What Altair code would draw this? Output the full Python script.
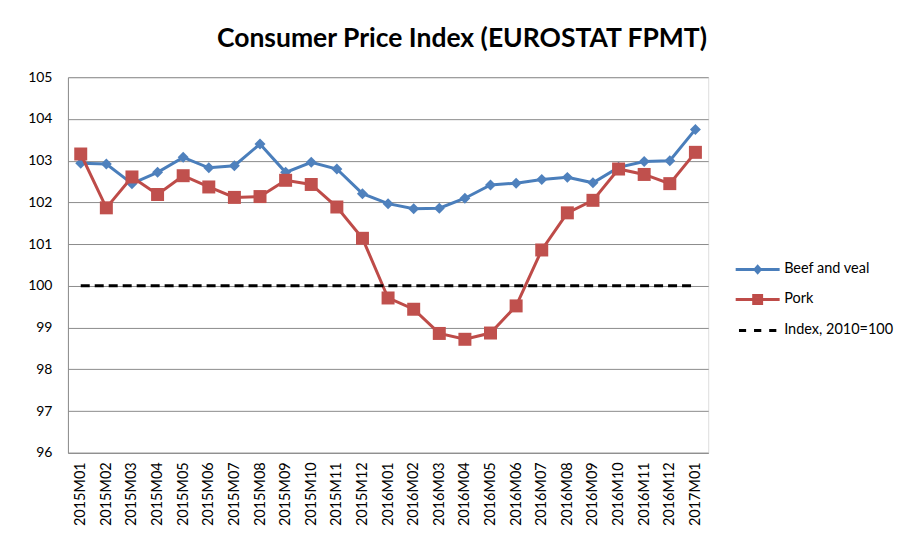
import altair as alt
import pandas as pd

months = ["2015M01", "2015M02", "2015M03", "2015M04", "2015M05", "2015M06",
          "2015M07", "2015M08", "2015M09", "2015M10", "2015M11", "2015M12",
          "2016M01", "2016M02", "2016M03", "2016M04", "2016M05", "2016M06",
          "2016M07", "2016M08", "2016M09", "2016M10", "2016M11", "2016M12",
          "2017M01"]
beef = [102.94, 102.92, 102.45, 102.72, 103.08, 102.83, 102.88, 103.40, 102.72,
        102.96, 102.80, 102.21, 101.97, 101.85, 101.86, 102.10, 102.42, 102.46,
        102.55, 102.60, 102.47, 102.84, 102.98, 103.00, 103.75]
pork = [103.16, 101.87, 102.61, 102.19, 102.64, 102.37, 102.12, 102.14, 102.53,
        102.43, 101.89, 101.14, 99.71, 99.44, 98.86, 98.72, 98.87, 99.52,
        100.86, 101.75, 102.05, 102.80, 102.67, 102.45, 103.20]
index_line = [100, 100, 100, 100, 100, 100, 100, 100, 100, 100, 100, 100, 100,
              100, 100, 100, 100, 100, 100, 100, 100, 100, 100, 100, 100]
series = ["Beef and veal", "Pork", "Index, 2010=100"]
y_ticks = [96, 97, 98, 99, 100, 101, 102, 103, 104, 105]

BLUE_LINE = "#4A7EBB"
BLUE_MARK = "#4F81BD"
RED_LINE = "#BE4B48"
RED_MARK = "#C0504D"
GRID = "#8C8C8C"
FONT = "Lato"

rows = []
for name, vals in zip(series, [beef, pork, index_line]):
    for m, v in zip(months, vals):
        rows.append({"month": m, "value": v, "series": name})
df = pd.DataFrame(rows)

x_enc = alt.X("month:O", sort=months,
              scale=alt.Scale(domain=months),
              axis=alt.Axis(title=None, labelAngle=-90, ticks=False,
                            labelPadding=9, labelFontSize=14.5, labelFont=FONT,
                            labelColor="#000000", domainColor=GRID,
                            domainWidth=1, grid=False))
y_enc = alt.Y("value:Q",
              scale=alt.Scale(domain=[96, 105], nice=False, zero=False),
              axis=alt.Axis(title=None, values=y_ticks, ticks=False,
                            labelPadding=16, labelFontSize=14, labelFont=FONT,
                            labelColor="#000000", grid=True, gridColor=GRID,
                            gridWidth=1, domainColor=GRID, domainWidth=1))

base = alt.Chart(df).encode(x=x_enc, y=y_enc)

beef_line = base.transform_filter(alt.datum.series == series[0]).mark_line(
    color=BLUE_LINE, strokeWidth=3)
beef_pts = base.transform_filter(alt.datum.series == series[0]).mark_point(
    shape="diamond", filled=True, size=121, color=BLUE_MARK, opacity=1)
pork_line = base.transform_filter(alt.datum.series == series[1]).mark_line(
    color=RED_LINE, strokeWidth=3)
pork_pts = base.transform_filter(alt.datum.series == series[1]).mark_point(
    shape="square", filled=True, size=169, color=RED_MARK, opacity=1)
idx_line = base.transform_filter(alt.datum.series == series[2]).mark_line(
    color="#000000", strokeWidth=3, strokeDash=[9, 5])

# legend symbols: line + marker drawn as custom paths
legend_paths = [
    "M-2,0H2M0,-0.27L0.24,0L0,0.27L-0.24,0Z",
    "M-2,0H2M-0.36,-0.36H0.36V0.36H-0.36Z",
    "M-1.7,0H-1.05M-0.33,0H0.33M1.05,0H1.7",
]
legend_fill = [BLUE_MARK, RED_MARK, "#000000"]
legend_stroke = [BLUE_LINE, RED_LINE, "#000000"]

leg = alt.Legend(title=None, orient="none", legendX=678, legendY=180,
                 padding=0, labelFontSize=14.5, labelFont=FONT,
                 labelColor="#000000", symbolSize=484, symbolStrokeWidth=3,
                 rowPadding=8, labelOffset=14, symbolOpacity=1)

legend_src = base.transform_filter("false").mark_point(filled=True).encode(
    fill=alt.Fill("series:N", scale=alt.Scale(domain=series, range=legend_fill),
                  legend=leg),
    stroke=alt.Stroke("series:N",
                      scale=alt.Scale(domain=series, range=legend_stroke),
                      legend=leg),
    shape=alt.Shape("series:N",
                    scale=alt.Scale(domain=series, range=legend_paths),
                    legend=leg),
)

chart = alt.layer(beef_line, beef_pts, pork_line, pork_pts, idx_line,
                  legend_src).properties(
    width=641, height=376,
    title=alt.TitleParams("Consumer Price Index (EUROSTAT FPMT)",
                          fontSize=26.5, font=FONT, fontWeight="bold",
                          color="#000000", anchor="middle", dx=74,
                          offset=18),
    autosize=alt.AutoSizeParams(type="none"),
    padding={"left": 60, "top": 69, "right": 190, "bottom": 82},
).configure_view(stroke=None).configure(background="#ffffff")

chart.save("out.html", embed_options={"renderer": "svg", "actions": False})
